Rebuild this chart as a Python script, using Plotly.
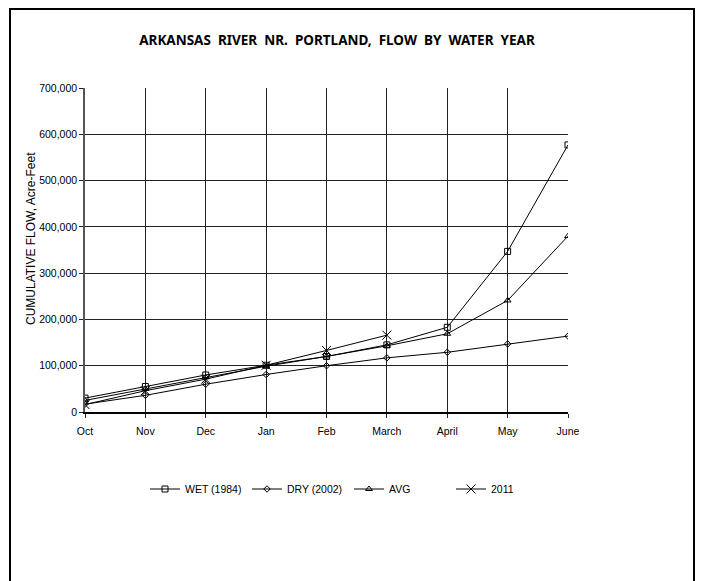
import plotly.graph_objects as go

months = ["Oct", "Nov", "Dec", "Jan", "Feb", "March", "April", "May", "June"]
wet_1984 = [30000, 55000, 80000, 101000, 120000, 145000, 183000, 347000, 577000]
dry_2002 = [17000, 36000, 60000, 81000, 100000, 117000, 129000, 147000, 164000]
avg = [25000, 50000, 75000, 99000, 120000, 143000, 169000, 241000, 380000]
y2011 = [16000, 46000, 71000, 101000, 133000, 166000]
y_ticks = [0, 100000, 200000, 300000, 400000, 500000, 600000, 700000]
y_tick_text = ["0", "100,000", "200,000", "300,000", "400,000", "500,000", "600,000", "700,000"]

series = [
    ("WET (1984)", wet_1984, "square-open", 6),
    ("DRY (2002)", dry_2002, "diamond-open", 5),
    ("AVG", avg, "triangle-up-open", 6),
    ("2011", y2011, "x-thin-open", 9),
]

fig = go.Figure()
for name, vals, sym, sz in series:
    fig.add_trace(go.Scatter(
        x=months[:len(vals)], y=vals, name=name, mode="lines+markers",
        line=dict(color="black", width=1),
        marker=dict(symbol=sym, size=sz, color="black",
                    line=dict(color="black", width=1)),
    ))

L, T, W, H = 77, 80, 483, 324
fig.update_layout(
    width=704, height=581,
    paper_bgcolor="white", plot_bgcolor="white",
    margin=dict(l=L, r=704 - L - W, t=T, b=581 - T - H),
    title=dict(text="ARKANSAS  RIVER  NR.  PORTLAND,  FLOW  BY  WATER  YEAR",
               x=329 / 704, xanchor="center", y=1 - 32 / 581, yanchor="middle",
               xref="container",
               font=dict(family="Noto Sans", size=13.5, color="black", weight="bold")),
    font=dict(family="Liberation Sans", size=10.5, color="black"),
    showlegend=True,
    legend=dict(orientation="h", x=(137 - L) / W, xanchor="left", y=(412 - 489) / 324, yanchor="middle",
                entrywidth=57, entrywidthmode="pixels",
                font=dict(family="Liberation Sans", size=10.5, color="black"),
                itemwidth=30, traceorder="normal"),
    shapes=[dict(type="rect", xref="paper", yref="paper",
                 x0=(2 - L) / W, x1=(686 - L) / W,
                 y0=(T + H - 600) / H, y1=(T + H - 1) / H,
                 line=dict(color="black", width=2), layer="below")],
    annotations=[dict(text="CUMULATIVE FLOW, Acre-Feet", textangle=-90,
                      xref="paper", yref="paper", x=(23 - L) / W, y=(T + H - 231) / H,
                      xanchor="center", yanchor="middle", showarrow=False,
                      font=dict(family="Liberation Sans", size=12, color="black"))],
)
fig.update_xaxes(
    type="category", categoryorder="array", categoryarray=months,
    range=[0, 8], showgrid=True, gridcolor="#222", gridwidth=1,
    showline=True, linecolor="black", linewidth=1.5,
    ticks="outside", ticklen=4, tickcolor="#222", zeroline=False,
    ticklabelstandoff=5,
    tickfont=dict(family="Liberation Sans", size=10.5, color="black"),
)
fig.update_yaxes(
    range=[0, 700000], tickvals=y_ticks, ticktext=y_tick_text,
    showgrid=True, gridcolor="#222", gridwidth=1,
    showline=True, linecolor="#555", linewidth=1.5, mirror=False,
    ticks="outside", ticklen=4, tickcolor="#222", zeroline=False,
    tickfont=dict(family="Liberation Sans", size=10.5, color="black"),
)
fig.write_html("out.html")
